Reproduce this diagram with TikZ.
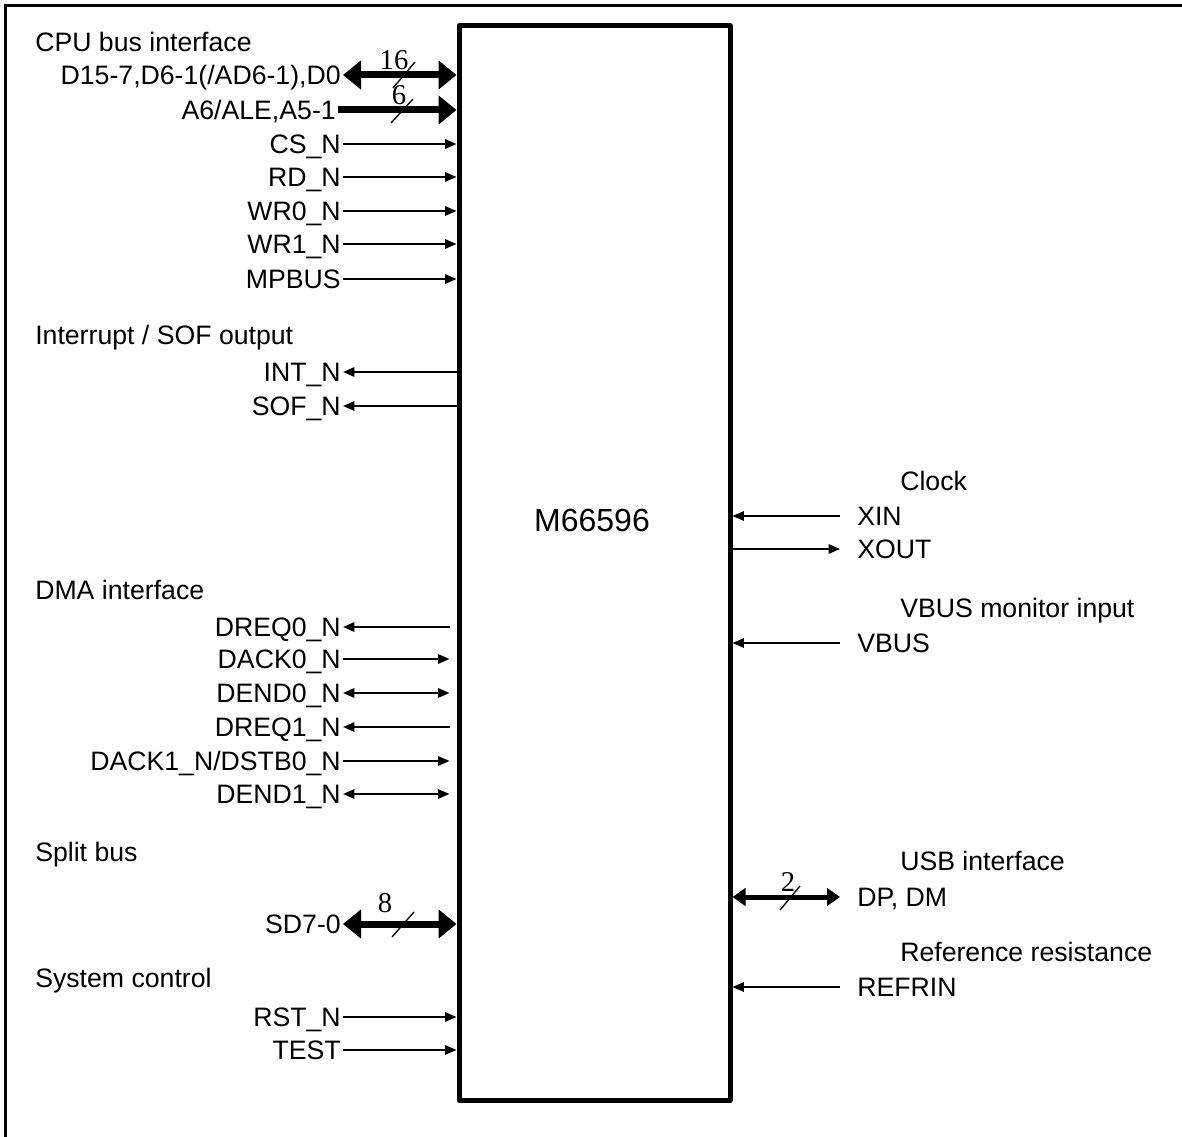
\documentclass[tikz,border=0pt]{standalone}
\usepackage{fontspec}
\setmainfont{Liberation Sans}
\newfontfamily\numfont{Liberation Serif}
\usetikzlibrary{arrows.meta}
\begin{document}
\begin{tikzpicture}[x=0.75pt,y=-0.75pt,
  every node/.style={font=\fontsize{20}{24}\selectfont, inner sep=0pt},
  sig/.style={text height=14.5pt, text depth=0pt, inner xsep=1.5pt},
  lsig/.style={sig, anchor=east},
  rsig/.style={sig, anchor=west, inner xsep=12.75pt},
  head/.style={text height=14.5pt, text depth=0pt, anchor=west},
  chipbox/.style={draw, line width=3.75pt, line join=round, minimum width=203.25pt, minimum height=805.5pt},
  thin/.style={line width=1.3pt, >={Triangle[length=8.5pt,width=7pt]}},
  bus/.style={line width=5.25pt, >={Triangle[length=13.5pt,width=21pt]}},
  sbus/.style={line width=3.75pt, >={Triangle[length=9.75pt,width=13pt]}},
  gap/.style={shorten >=5.25pt},
  slash/.style={line width=1pt},
  busnum/.style={font=\numfont\fontsize{21.5}{24}\selectfont}
]
\useasboundingbox (0,0) rectangle (1182,1137);
% outer frame (top and left only visible)
\draw[line width=1.8pt] (5.5,1137) -- (5.5,5.5) -- (1182,5.5);

% chip
\node[chipbox] (chip) at (594.5,563) {};
\node[font=\fontsize{24}{28}\selectfont] (chipname) at (592,520) {M66596};

% ---- CPU bus interface
\node[head] (hcpu) at (35,42) {CPU bus interface};
\node[lsig] (d15) at (343,75) {D15-7,D6-1(/AD6-1),D0};
\draw[bus,<->] (d15.east) -- (chip.west |- d15.east);
\node[busnum] (n16) at (394,60) {16};
\draw[slash] (393,88) -- (415,62);
\node[lsig] (a6) at (338,110) {A6/ALE,A5-1};
\draw[bus,->] (a6.east) -- (chip.west |- a6.east);
\node[busnum] (n6) at (399,95) {6};
\draw[slash] (391,123) -- (413,99);
\node[lsig] (cs) at (343,144) {CS\_N};
\draw[thin,->] (cs.east) -- (chip.west |- cs.east);
\node[lsig] (rd) at (343,177) {RD\_N};
\draw[thin,->] (rd.east) -- (chip.west |- rd.east);
\node[lsig] (wr0) at (343,211) {WR0\_N};
\draw[thin,->] (wr0.east) -- (chip.west |- wr0.east);
\node[lsig] (wr1) at (343,244) {WR1\_N};
\draw[thin,->] (wr1.east) -- (chip.west |- wr1.east);
\node[lsig] (mpbus) at (343,279) {MPBUS};
\draw[thin,->] (mpbus.east) -- (chip.west |- mpbus.east);

% ---- Interrupt
\node[head] (hint) at (35,335) {Interrupt / SOF output};
\node[lsig] (intn) at (343,372) {INT\_N};
\draw[thin,<-] (intn.east) -- (chip.west |- intn.east);
\node[lsig] (sof) at (343,406) {SOF\_N};
\draw[thin,<-] (sof.east) -- (chip.west |- sof.east);

% ---- DMA
\node[head] (hdma) at (35,590) {DMA interface};
\node[lsig] (dreq0) at (343,627) {DREQ0\_N};
\draw[thin,gap,<-] (dreq0.east) -- (chip.west |- dreq0.east);
\node[lsig] (dack0) at (343,659) {DACK0\_N};
\draw[thin,gap,->] (dack0.east) -- (chip.west |- dack0.east);
\node[lsig] (dend0) at (343,693) {DEND0\_N};
\draw[thin,gap,<->] (dend0.east) -- (chip.west |- dend0.east);
\node[lsig] (dreq1) at (343,727) {DREQ1\_N};
\draw[thin,gap,<-] (dreq1.east) -- (chip.west |- dreq1.east);
\node[lsig] (dack1) at (343,761) {DACK1\_N/DSTB0\_N};
\draw[thin,gap,->] (dack1.east) -- (chip.west |- dack1.east);
\node[lsig] (dend1) at (343,794) {DEND1\_N};
\draw[thin,gap,<->] (dend1.east) -- (chip.west |- dend1.east);

% ---- Split bus
\node[head] (hsplit) at (35,852) {Split bus};
\node[lsig] (sd) at (343,924) {SD7-0};
\draw[bus,<->] (sd.east) -- (chip.west |- sd.east);
\node[busnum] (n8) at (385,903) {8};
\draw[slash] (392,937) -- (414,912);

% ---- System control
\node[head] (hsys) at (35,978) {System control};
\node[lsig] (rst) at (343,1017) {RST\_N};
\draw[thin,->] (rst.east) -- (chip.west |- rst.east);
\node[lsig] (test) at (343,1050) {TEST};
\draw[thin,->] (test.east) -- (chip.west |- test.east);

% ---- Right side
\node[head] (hclk) at (900,481) {Clock};
\node[rsig] (xin) at (840,516) {XIN};
\draw[thin,->] (xin.west) -- (chip.east |- xin.west);
\node[rsig] (xout) at (840,549) {XOUT};
\draw[thin,<-] (xout.west) -- (chip.east |- xout.west);

\node[head] (hvbus) at (900,608) {VBUS monitor input};
\node[rsig] (vbus) at (840,643) {VBUS};
\draw[thin,->] (vbus.west) -- (chip.east |- vbus.west);

\node[head] (husb) at (900,861) {USB interface};
\node[rsig] (dp) at (840,897) {DP, DM};
\draw[sbus,<->] (dp.west) -- (chip.east |- dp.west);
\node[busnum] (n2) at (788,882) {2};
\draw[slash] (780,910) -- (800,886);

\node[head] (href) at (900,952) {Reference resistance};
\node[rsig] (refr) at (840,987) {REFRIN};
\draw[thin,->] (refr.west) -- (chip.east |- refr.west);
\end{tikzpicture}
\end{document}
